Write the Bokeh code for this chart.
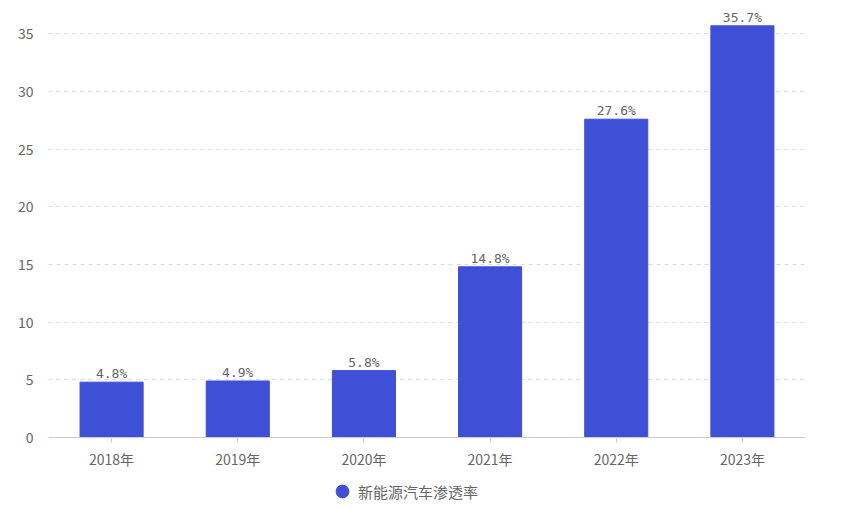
from bokeh.plotting import figure
from bokeh.layouts import column
from bokeh.models import ColumnDataSource, LabelSet, Legend, LegendItem, FixedTicker, Range1d
from bokeh.core.properties import value
from bokeh.embed import file_html
from bokeh.resources import INLINE

years = ["2018年", "2019年", "2020年", "2021年", "2022年", "2023年"]
rates = [4.8, 4.9, 5.8, 14.8, 27.6, 35.7]
labels = [f"{v}%" for v in rates]
series_name = "新能源汽车渗透率"
y_ticks = [0, 5, 10, 15, 20, 25, 30, 35]

BAR = "#3f4fd6"
FONT = "Noto Sans CJK SC"

src = ColumnDataSource(dict(x=years, top=rates, label=labels))

p = figure(x_range=years, y_range=Range1d(0, 37.2), frame_width=757, frame_height=429,
           output_backend="svg", toolbar_location=None,
           min_border_left=48, min_border_right=39, min_border_top=8, min_border_bottom=38)
p.outline_line_color = None
p.background_fill_color = "white"

bars = p.vbar(x="x", top="top", width=0.5, source=src, fill_color=BAR, line_color=BAR)

lbl = LabelSet(x="x", y="top", text="label", source=src, text_align="center",
               text_baseline="bottom", y_offset=1, text_font_size="13px",
               text_color="#666666", text_font=value("DejaVu Sans Mono"))
p.add_layout(lbl)

p.yaxis.ticker = FixedTicker(ticks=y_ticks)
p.yaxis.axis_line_color = None
p.yaxis.major_tick_line_color = None
p.yaxis.minor_tick_line_color = None
p.yaxis.major_label_text_color = "#666666"
p.yaxis.major_label_text_font_size = "14px"
p.yaxis.major_label_text_font = FONT
p.yaxis.major_label_standoff = 9

p.xaxis.axis_line_color = "#cccccc"
p.xaxis.major_tick_line_color = "#cccccc"
p.xaxis.major_tick_in = 0
p.xaxis.major_tick_out = 5
p.xaxis.major_label_text_color = "#666666"
p.xaxis.major_label_text_font_size = "14px"
p.xaxis.major_label_text_font = FONT
p.xaxis.major_label_standoff = 6

p.xgrid.grid_line_color = None
p.ygrid.grid_line_color = "#dddddd"
p.ygrid.grid_line_dash = "4 4"

# legend strip below the chart
q = figure(x_range=years, y_range=Range1d(0, 37.2), frame_width=844, frame_height=32,
           output_backend="svg", toolbar_location=None,
           min_border_left=0, min_border_right=0, min_border_top=0, min_border_bottom=0)
q.axis.visible = False
q.grid.grid_line_color = None
q.outline_line_color = None
marker = q.scatter(x="x", y="top", source=src, marker="circle", size=0,
                   fill_color=BAR, line_color=BAR)
legend = Legend(items=[LegendItem(label=series_name, renderers=[marker])],
                location=(326, 0), orientation="horizontal",
                border_line_color=None, background_fill_alpha=0,
                label_text_font=FONT, label_text_font_size="15px",
                label_text_color="#666666", glyph_width=32, glyph_height=32,
                label_standoff=0, padding=0, margin=0)
q.add_layout(legend)

layout = column(p, q, spacing=0)
open("out.html", "w").write(file_html(layout, INLINE))
